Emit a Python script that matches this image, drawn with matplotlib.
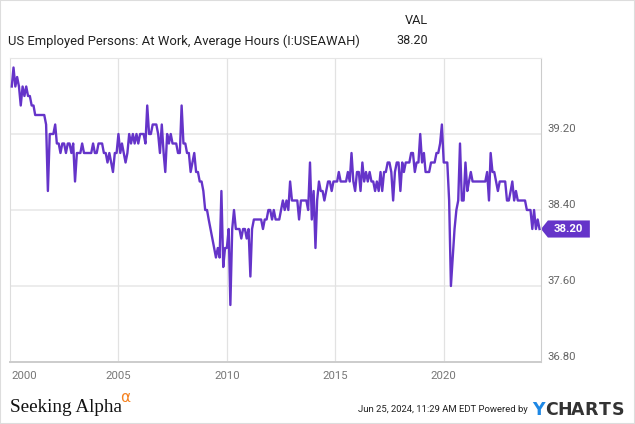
import pandas as pd
import matplotlib
matplotlib.use('Agg')
import matplotlib.pyplot as plt
from matplotlib.patches import Polygon, Rectangle
from matplotlib.transforms import blended_transform_factory

plt.rcParams['font.family'] = ['Roboto', 'DejaVu Sans']

# monthly average hours at work
v2000 = [39.7, 39.9, 39.7, 39.8, 39.7, 39.5, 39.7, 39.6, 39.7, 39.6, 39.6, 39.5]
v2001 = [39.5, 39.4, 39.4, 39.4, 39.4, 39.4, 39.4, 39.3, 38.6, 39.2, 39.2, 39.2]
v2002 = [39.3, 39.1, 39.1, 39.0, 39.1, 39.1, 39.0, 39.1, 39.1, 39.0, 39.1, 38.7]
v2003 = [39.0, 39.0, 39.0, 39.1, 39.0, 39.0, 39.0, 39.0, 39.0, 39.1, 39.0, 39.0]
v2004 = [39.1, 39.1, 39.1, 39.0, 39.0, 38.9, 39.0, 38.9, 38.8, 39.0, 39.0, 39.2]
v2005 = [39.0, 39.1, 39.0, 38.9, 39.0, 39.2, 39.1, 39.2, 39.1, 39.2, 39.1, 39.2]
v2006 = [39.2, 39.2, 39.1, 39.5, 39.2, 39.2, 39.3, 39.3, 39.3, 39.2, 39.0, 39.3]
v2007 = [39.0, 38.8, 39.2, 39.1, 39.2, 39.1, 39.1, 39.1, 39.0, 39.0, 39.5, 39.1]
v2008 = [39.1, 39.0, 39.0, 38.8, 38.9, 39.0, 38.8, 38.8, 38.7, 38.7, 38.6, 38.4]
v2009 = [38.4, 38.3, 38.2, 38.1, 38.0, 37.9, 38.0, 37.9, 38.6, 37.8, 38.0, 38.0]
v2010 = [38.2, 37.4, 38.2, 38.4, 38.2, 38.2, 38.2, 38.1, 38.2, 38.2, 38.1, 38.2]
v2011 = [37.7, 38.2, 38.3, 38.3, 38.3, 38.3, 38.3, 38.2, 38.3, 38.3, 38.4, 38.4]
v2012 = [38.3, 38.4, 38.3, 38.3, 38.3, 38.4, 38.5, 38.4, 38.5, 38.4, 38.7, 38.5]
v2013 = [38.5, 38.5, 38.5, 38.3, 38.5, 38.5, 38.5, 38.5, 38.4, 38.9, 38.3, 38.6]
v2014 = [38.0, 38.5, 38.7, 38.6, 38.6, 38.5, 38.6, 38.7, 38.7, 38.6, 38.7, 38.7]
v2015 = [38.7, 38.8, 38.7, 38.7, 38.7, 38.7, 38.8, 38.7, 39.0, 38.7, 38.6, 38.8]
v2016 = [38.8, 38.6, 38.9, 38.7, 38.8, 38.7, 38.8, 38.7, 38.7, 38.6, 38.7, 38.6]
v2017 = [38.8, 38.6, 38.8, 38.8, 38.9, 38.9, 38.8, 38.5, 38.8, 38.9, 38.9, 38.6]
v2018 = [38.9, 38.8, 38.9, 38.9, 38.9, 39.0, 39.0, 38.8, 38.9, 38.9, 39.2, 38.9]
v2019 = [39.0, 38.8, 38.8, 38.8, 38.9, 38.9, 38.9, 39.0, 39.0, 39.1, 39.3, 38.9]
v2020 = [38.9, 38.9, 38.5, 37.6, 37.9, 38.2, 38.4, 38.5, 39.1, 38.5, 38.5, 38.9]
v2021 = [38.6, 38.7, 38.8, 38.7, 38.7, 38.7, 38.7, 38.7, 38.7, 38.7, 38.7, 38.8]
v2022 = [38.5, 39.0, 38.8, 38.8, 38.7, 38.6, 38.7, 38.7, 38.7, 38.7, 38.5, 38.5]
v2023 = [38.6, 38.7, 38.5, 38.6, 38.5, 38.5, 38.5, 38.5, 38.5, 38.4, 38.4, 38.4]
v2024 = [38.2, 38.4, 38.2, 38.3, 38.2]

hours = (v2000 + v2001 + v2002 + v2003 + v2004 + v2005 + v2006 + v2007 + v2008
         + v2009 + v2010 + v2011 + v2012 + v2013 + v2014 + v2015 + v2016 + v2017
         + v2018 + v2019 + v2020 + v2021 + v2022 + v2023 + v2024)
dates = pd.date_range('2000-01-31', periods=len(hours), freq='ME')

yticks = [36.8, 37.6, 38.4, 39.2]
xyears = [2000, 2005, 2010, 2015, 2020]

purple = '#6534c9'
W, H = 635, 424

fig = plt.figure(figsize=(W / 100, H / 100), dpi=100)
ax = fig.add_axes([10 / W, 1 - 362 / H, 531 / W, 304 / H])
ax.plot(dates, hours, color=purple, lw=1.7, zorder=3)
ax.set_xlim(pd.Timestamp('2000-01-01'), pd.Timestamp('2024-06-25'))
ax.set_ylim(36.8, 40.0)

# grid
for v in yticks[1:]:
    ax.axhline(v, color='#e9e9e9', lw=1.2, zorder=1)
for yr in xyears[1:]:
    ax.axvline(pd.Timestamp(f'{yr}-01-01'), color='#e2e2e2', lw=0.9, zorder=1)

ax.set_xticks([])
ax.set_yticks([])
for side, c in [('left', '#dddddd'), ('top', '#e6e6e6'),
                ('right', '#cccccc'), ('bottom', '#cccccc')]:
    ax.spines[side].set_color(c)
ax.spines['bottom'].set_linewidth(1.4)

# y labels on the right, a bit above their lines
for v in yticks:
    ax.annotate(f'{v:.2f}', xy=(1.0, v), xycoords=('axes fraction', 'data'),
                xytext=(4.5, 3.8), textcoords='offset points',
                ha='left', va='center', fontsize=8.2, color='#666666')

# x labels
for yr in xyears:
    ha = 'left' if yr == 2000 else 'center'
    ax.annotate(str(yr), xy=(pd.Timestamp(f'{yr}-01-01'), 0),
                xycoords=('data', 'axes fraction'),
                xytext=(1 if yr == 2000 else 0, -10), textcoords='offset points',
                ha=ha, va='center', fontsize=8.2, color='#777777')

# last value tag
last = hours[-1]
tr = blended_transform_factory(ax.transAxes, ax.transData)
hh = 0.09
tag = Polygon([(1.0, last), (1.013, last + hh), (1.092, last + hh),
               (1.092, last - hh), (1.013, last - hh)],
              closed=True, transform=tr, fc=purple, ec='none', clip_on=False)
ax.add_patch(tag)
ax.text(1.052, last, f'{last:.2f}', transform=tr, ha='center', va='center',
        fontsize=8.2, color='white', fontweight='bold')

# header
fig.text(8 / W, 1 - 41 / H, 'US Employed Persons: At Work, Average Hours (I:USEAWAH)',
         fontsize=9.4, color='#222222', va='center', ha='left')
fig.text(428 / W, 1 - 21 / H, 'VAL', fontsize=9.2, color='#222222', va='center', ha='right')
fig.text(428 / W, 1 - 41 / H, f'{last:.2f}', fontsize=9, color='#222222',
         va='center', ha='right')

# footer
fig.text(10 / W, 1 - 407 / H, 'Seeking Alpha', family='Liberation Serif',
         fontsize=13.8, color='#111111', va='center', ha='left')
fig.text(120 / W, 1 - 397 / H, 'α', family='DejaVu Sans', fontsize=11,
         color='#f58220', va='center', ha='left')
fig.text(528 / W, 1 - 410 / H, 'Jun 25, 2024, 11:29 AM EDT Powered by',
         fontsize=6.8, color='#222222', va='center', ha='right')
logo = 'YCHARTS'
for i, ch in enumerate(logo):
    fig.text((538 + i * 13.3) / W, 1 - 410 / H, ch, family='DejaVu Sans',
             fontweight='bold', fontsize=12.5,
             color='#1e88e5' if i == 0 else '#333333', va='center', ha='center')

fig.add_artist(Rectangle((0, 0), 1, 1, transform=fig.transFigure, fill=False,
                         ec='#dddddd', lw=1.5))

fig.savefig('out.png', dpi=100)
